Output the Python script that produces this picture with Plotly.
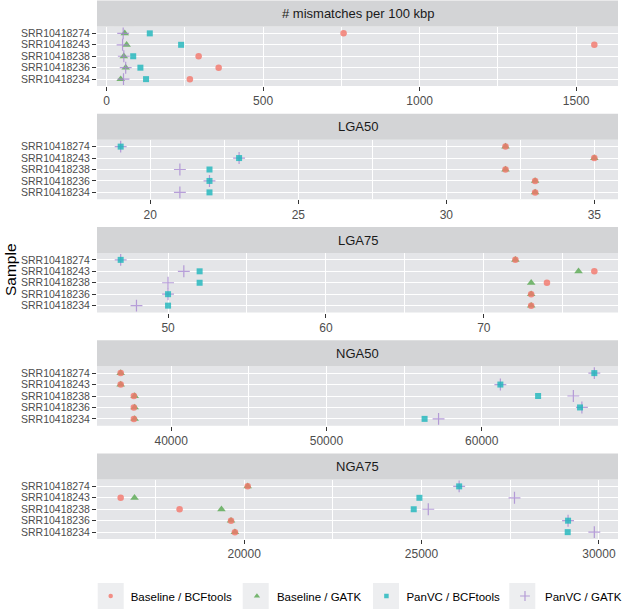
"""
Variant calling comparison - faceted dot plot per assembly metric
"""

import plotly.graph_objects as go
from plotly.subplots import make_subplots


# Samples, top to bottom
samples = ["SRR10418274", "SRR10418243", "SRR10418238", "SRR10418236", "SRR10418234"]

metrics = ["# mismatches per 100 kbp", "LGA50", "LGA75", "NGA50", "NGA75"]

# One list per method and metric, in the order of `samples`
mismatches_baseline_bcftools = [757, 1558, 294, 358, 266]
mismatches_baseline_gatk = [58, 64, 55, 61, 45]
mismatches_panvc_bcftools = [138, 238, 85, 108, 126]
mismatches_panvc_gatk = [53, 51, 55, 61, 54]

lga50_baseline_bcftools = [32, 35, 32, 33, 33]
lga50_baseline_gatk = [32, 35, 32, 33, 33]
lga50_panvc_bcftools = [19, 23, 22, 22, 22]
lga50_panvc_gatk = [19, 23, 21, 22, 21]

lga75_baseline_bcftools = [72, 77, 74, 73, 73]
lga75_baseline_gatk = [72, 76, 73, 73, 73]
lga75_panvc_bcftools = [47, 52, 52, 50, 50]
lga75_panvc_gatk = [47, 51, 50, 50, 48]

nga50_baseline_bcftools = [36750, 36750, 37600, 37600, 37600]
nga50_baseline_gatk = [36750, 36750, 37650, 37650, 37650]
nga50_panvc_bcftools = [67250, 61200, 63630, 66330, 56320]
nga50_panvc_gatk = [67250, 61200, 65900, 66450, 57220]

nga75_baseline_bcftools = [20100, 16520, 18180, 19630, 19740]
nga75_baseline_gatk = [20100, 16910, 19360, 19630, 19740]
nga75_panvc_bcftools = [26060, 24940, 24780, 29130, 29120]
nga75_panvc_gatk = [26060, 27620, 25190, 29130, 29870]

methods = ["Baseline / BCFtools", "Baseline / GATK", "PanVC / BCFtools", "PanVC / GATK"]

data = {
    "Baseline / BCFtools": [mismatches_baseline_bcftools, lga50_baseline_bcftools, lga75_baseline_bcftools,
                            nga50_baseline_bcftools, nga75_baseline_bcftools],
    "Baseline / GATK": [mismatches_baseline_gatk, lga50_baseline_gatk, lga75_baseline_gatk,
                        nga50_baseline_gatk, nga75_baseline_gatk],
    "PanVC / BCFtools": [mismatches_panvc_bcftools, lga50_panvc_bcftools, lga75_panvc_bcftools,
                         nga50_panvc_bcftools, nga75_panvc_bcftools],
    "PanVC / GATK": [mismatches_panvc_gatk, lga50_panvc_gatk, lga75_panvc_gatk,
                     nga50_panvc_gatk, nga75_panvc_gatk],
}

# major tick step per facet (minor = half)
major_steps = [500, 5, 10, 10000, 5000]

# style per method: symbol, colour, size on plot, size in legend
styles = {
    "Baseline / BCFtools": dict(symbol="circle", color="#F4766B", size=6.5, legend_size=4.5),
    "Baseline / GATK": dict(symbol="triangle-up", color="#58A850", size=7.5, legend_size=5.5),
    "PanVC / BCFtools": dict(symbol="square", color="#1DB6BC", size=6, legend_size=4.5),
    "PanVC / GATK": dict(symbol="cross-thin", color="#A787D1", size=8.5, legend_size=7),
}
# drawing order (overlaps look like the ggplot original)
draw_order = ["Baseline / GATK", "Baseline / BCFtools", "PanVC / GATK", "PanVC / BCFtools"]

W, H = 624, 609
MARGIN_L, MARGIN_R, MARGIN_T, MARGIN_B = 97, 6, 0, 70
PLOT_W = W - MARGIN_L - MARGIN_R
PLOT_H = H - MARGIN_T - MARGIN_B
PANEL_TOP0 = 26.5
PANEL_STEP = 113.25
PANEL_H = 59.5
STRIP_H = 26

PANEL_BG = "#E4E5E8"
STRIP_BG = "#D3D4D6"
KEY_BG = "#EDEEF0"
FONT = "Liberation Sans, Arial, Helvetica, sans-serif"

LEGEND_Y = 596
LEGEND_FONT = 11.5


def frac(px):
    """pixel from top of plot area -> paper fraction"""
    return 1 - px / PLOT_H


def xfrac(px):
    """pixel from left of figure -> paper fraction"""
    return (px - MARGIN_L) / PLOT_W


def make_marker(st, size):
    marker = dict(symbol=st["symbol"], color=st["color"], size=size)
    if st["symbol"] == "cross-thin":
        marker["line"] = dict(color=st["color"], width=1.2)
    else:
        marker["line"] = dict(width=0)
    return marker


fig = make_subplots(rows=5, cols=1)

for name in draw_order:
    st = styles[name]
    for i, values in enumerate(data[name]):
        fig.add_trace(
            go.Scatter(
                x=values,
                y=samples,
                mode="markers",
                name=name,
                marker=make_marker(st, st["size"]),
                opacity=0.8,
                legendgroup=name,
                showlegend=False,
            ),
            row=i + 1,
            col=1,
        )

# legend-only entries (smaller keys, like ggplot)
for name in methods:
    st = styles[name]
    fig.add_trace(
        go.Scatter(
            x=[None], y=[None], mode="markers", name=name,
            marker=make_marker(st, st["legend_size"]), opacity=0.8,
            legendgroup=name, showlegend=True,
        ),
        row=1, col=1,
    )

shapes = []
annotations = []
for i, metric in enumerate(metrics):
    top = PANEL_TOP0 + PANEL_STEP * i
    bottom = top + PANEL_H

    # ggplot-like 5% expansion of the data range
    all_vals = [v for name in data for v in data[name][i]]
    lo, hi = min(all_vals), max(all_vals)
    pad = (hi - lo) * 0.05
    step = major_steps[i]

    axis_suffix = "" if i == 0 else str(i + 1)
    fig.layout["xaxis" + axis_suffix].update(
        anchor="y" + axis_suffix,
        range=[lo - pad, hi + pad],
        tick0=0,
        dtick=step,
        tickformat="d",
        showgrid=True,
        gridcolor="white",
        gridwidth=1.2,
        minor=dict(dtick=step / 2, tick0=0, showgrid=True, gridcolor="white", gridwidth=0.5),
        zeroline=False,
        showline=False,
        ticks="outside",
        ticklen=4,
        tickwidth=1,
        tickcolor="#333333",
        tickfont=dict(family=FONT, size=12, color="#4D4D4D"),
        automargin=False,
    )
    fig.layout["yaxis" + axis_suffix].update(
        domain=[frac(bottom), frac(top)],
        type="category",
        categoryorder="array",
        categoryarray=samples[::-1],
        tickmode="array",
        tickvals=samples,
        ticktext=samples,
        range=[-0.6, 4.6],
        showgrid=True,
        gridcolor="white",
        gridwidth=1.2,
        zeroline=False,
        showline=False,
        ticks="outside",
        ticklen=4,
        tickwidth=1,
        tickcolor="#333333",
        tickfont=dict(family=FONT, size=10.5, color="#4D4D4D"),
        automargin=False,
    )

    # facet strip
    shapes.append(dict(
        type="rect", xref="paper", yref="paper",
        x0=0, x1=1, y0=frac(top), y1=frac(top - STRIP_H),
        fillcolor=STRIP_BG, line=dict(width=0), layer="below",
    ))
    annotations.append(dict(
        text=metric, xref="paper", yref="paper",
        x=0.5, y=frac(top - STRIP_H / 2), xanchor="center", yanchor="middle",
        showarrow=False, font=dict(family=FONT, size=13, color="#1A1A1A"),
    ))

# legend key backgrounds (grey squares behind the legend symbols)
key_centres = [110.7, 255.7, 386, 522.3]
for cx in key_centres:
    shapes.append(dict(
        type="rect", xref="paper", yref="paper",
        x0=xfrac(cx - 13), x1=xfrac(cx + 13),
        y0=frac(LEGEND_Y + 13), y1=frac(LEGEND_Y - 13),
        fillcolor=KEY_BG, line=dict(width=0), layer="below",
    ))

# y-axis title for the whole figure
annotations.append(dict(
    text="Sample", xref="paper", yref="paper",
    x=xfrac(10), y=frac(270),
    xanchor="center", yanchor="middle", textangle=-90,
    showarrow=False, font=dict(family=FONT, size=15.5, color="black"),
))

fig.update_layout(
    width=W,
    height=H,
    margin=dict(l=MARGIN_L, r=MARGIN_R, t=MARGIN_T, b=MARGIN_B, autoexpand=False),
    paper_bgcolor="white",
    plot_bgcolor=PANEL_BG,
    shapes=shapes,
    annotations=annotations,
    showlegend=True,
    legend=dict(
        orientation="h",
        xanchor="left",
        x=xfrac(90.7),
        yanchor="middle",
        y=frac(LEGEND_Y),
        font=dict(family=FONT, size=LEGEND_FONT, color="black"),
        bgcolor="rgba(0,0,0,0)",
        itemsizing="trace",
        traceorder="normal",
        borderwidth=0,
    ),
    font=dict(family=FONT),
)

# the page body has a default 8px margin; drop it so the figure fills the window
fig.write_html(
    "out.html",
    config={"displayModeBar": False},
    post_script="document.body.style.margin='0';document.body.style.overflow='hidden';",
)
